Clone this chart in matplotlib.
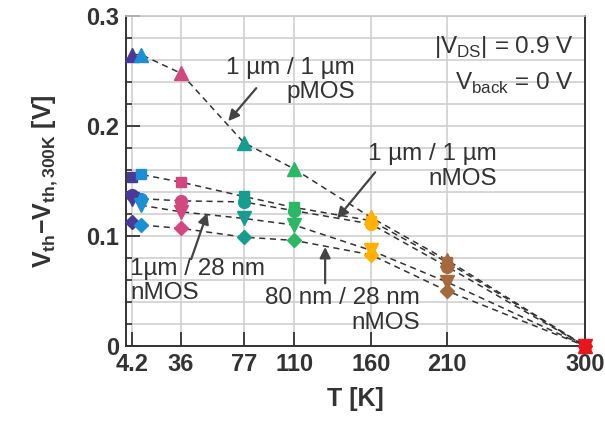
"""Threshold-voltage shift vs temperature, recreated with matplotlib."""
import matplotlib

matplotlib.use("Agg")

import matplotlib.pyplot as plt  # noqa: E402
from matplotlib.ticker import MultipleLocator  # noqa: E402

plt.rcParams["font.family"] = ["Liberation Sans", "DejaVu Sans"]
plt.rcParams["mathtext.fontset"] = "custom"
plt.rcParams["mathtext.rm"] = "Liberation Sans"
plt.rcParams["mathtext.bf"] = "Liberation Sans:bold"

# --- data ---------------------------------------------------------------------------
temps = [4.2, 10, 36, 77, 110, 160, 210, 300]
temp_colors = ["#4a3a98", "#1b8fd6", "#d2477f", "#179c90", "#2bb763",
               "#ffb000", "#a46a3e", "#e8141e"]
tick_temps = [4.2, 36, 77, 110, 160, 210, 300]
tick_labels = ["4.2", "36", "77", "110", "160", "210", "300"]
v_ticks = [0, 0.1, 0.2, 0.3]
v_tick_labels = ["0", "0.1", "0.2", "0.3"]

pmos_1u_1u = [0.265, 0.265, 0.248, 0.185, 0.161, 0.117, 0.078, 0.0]
nmos_1u_1u = [0.154, 0.156, 0.149, 0.136, 0.126, 0.114, 0.076, 0.0]
nmos_circle = [0.137, 0.134, 0.132, 0.131, 0.123, 0.111, 0.072, 0.0]
nmos_tridown = [0.134, 0.128, 0.122, 0.116, 0.110, 0.087, 0.058, 0.0]
nmos_80n_28n = [0.113, 0.110, 0.107, 0.099, 0.096, 0.083, 0.050, 0.0]

series = [
    (pmos_1u_1u, "^", 9.5),
    (nmos_1u_1u, "s", 7.5),
    (nmos_circle, "o", 8.5),
    (nmos_tridown, "v", 9.5),
    (nmos_80n_28n, "D", 7.0),
]

fig = plt.figure(figsize=(6.05, 4.25), dpi=100)
ax = fig.add_axes([0.208, 0.186, 0.759, 0.776])

for values, marker, ms in series:
    ax.plot(temps, values, color="#333333", lw=1.1, dashes=(4, 3), zorder=2)
    for t, v, c in zip(temps, values, temp_colors):
        ax.plot([t], [v], marker=marker, ms=ms, color=c, mec=c, ls="none",
                zorder=3, clip_on=False)

ax.set_xlim(0, 300)
ax.set_ylim(0, 0.3)
ax.set_xticks(tick_temps)
ax.set_xticklabels(tick_labels)
ax.set_yticks(v_ticks)
ax.set_yticklabels(v_tick_labels)
ax.yaxis.set_minor_locator(MultipleLocator(0.02))

ax.grid(True, which="major", axis="x", color="#cfcfcf", lw=1.2, zorder=0)
ax.grid(True, which="both", axis="y", color="#cfcfcf", lw=1.2, zorder=0)
ax.set_axisbelow(True)

ax.tick_params(axis="both", which="major", direction="in", length=10, width=1.3,
               color="#333333", labelsize=17, pad=5)
ax.tick_params(axis="y", which="minor", direction="in", length=4, width=1.2,
               color="#333333")
for lab in ax.get_xticklabels() + ax.get_yticklabels():
    lab.set_fontweight("bold")
    lab.set_color("#333333")

for side in ["left", "bottom", "right"]:
    ax.spines[side].set_color("#333333")
    ax.spines[side].set_linewidth(1.4)
ax.spines["top"].set_color("#c8c8c8")
ax.spines["top"].set_linewidth(1.2)

ax.set_xlabel("T [K]", fontsize=18, fontweight="bold", color="#333333", labelpad=8)
ax.set_ylabel(r"$\mathbf{V_{th}}$$\mathbf{-V_{th,300K}}$ [V]", fontsize=18,
              fontweight="bold", color="#333333", labelpad=19)

# --- annotations ---------------------------------------------------------------------
txt = dict(fontsize=17.5, color="#333333", linespacing=1.15)
arrow = dict(arrowstyle="-|>", color="#444444", lw=1.6, mutation_scale=16,
             shrinkA=0, shrinkB=0)

ax.text(149.8, 0.242, "1 µm / 1 µm\npMOS", ha="right", va="center",
        multialignment="right", **txt)
ax.annotate("", xy=(66.9, 0.2045), xytext=(85.2, 0.2345), arrowprops=arrow)

ax.text(242.6, 0.163, "1 µm / 1 µm\nnMOS", ha="right", va="center",
        multialignment="right", **txt)
ax.annotate("", xy=(138.1, 0.116), xytext=(162.9, 0.158), arrowprops=arrow)

ax.text(2.9, 0.059, "1µm / 28 nm\nnMOS", ha="left", va="center",
        multialignment="left", **txt)
ax.annotate("", xy=(53.2, 0.121), xytext=(42.7, 0.079), arrowprops=arrow)

ax.text(192.3, 0.032, "80 nm / 28 nm\nnMOS", ha="right", va="center",
        multialignment="right", **txt)
ax.annotate("", xy=(130.2, 0.090), xytext=(130.2, 0.057), arrowprops=arrow)

ax.text(0.975, 0.905, r"|V$_{\rm DS}$| = 0.9 V", transform=ax.transAxes,
        ha="right", va="center", **txt)
ax.text(0.975, 0.795, r"V$_{\rm back}$ = 0 V", transform=ax.transAxes,
        ha="right", va="center", **txt)

fig.savefig("out.png", dpi=100)
